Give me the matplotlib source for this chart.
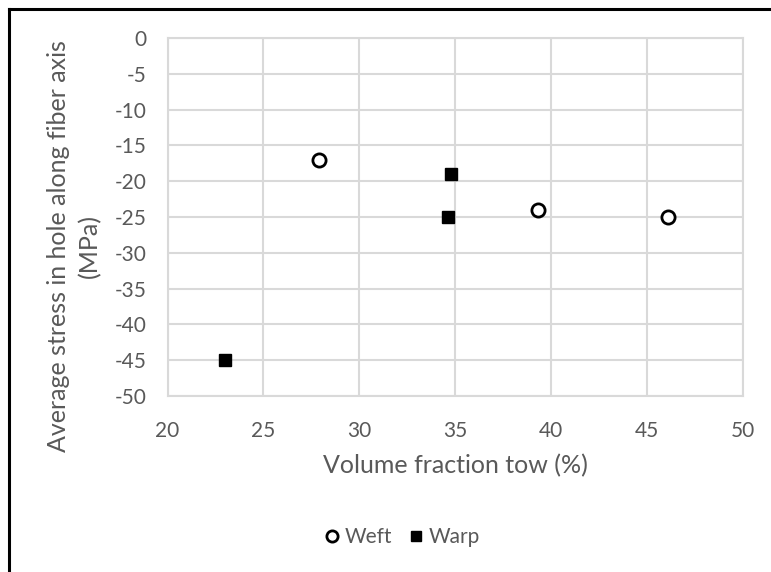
import matplotlib.pyplot as plt
from matplotlib.lines import Line2D

# data
weft_x = [27.9, 39.3, 46.1]
weft_y = [-17, -24, -25]
warp_x = [23.0, 34.8, 34.6]
warp_y = [-45, -19, -25]

x_ticks = [20, 25, 30, 35, 40, 45, 50]
y_ticks = [0, -5, -10, -15, -20, -25, -30, -35, -40, -45, -50]

plt.rcParams['font.family'] = ['Lato', 'DejaVu Sans']
plt.rcParams['axes.unicode_minus'] = False
grey = '#595959'
gridc = '#d9d9d9'

fig = plt.figure(figsize=(7.71, 5.72), dpi=100)
ax = fig.add_axes([167.5 / 771, 1 - 396 / 572, (743 - 167.5) / 771, (396 - 38) / 572])

ax.plot(weft_x, weft_y, 'o', ms=9.5, mfc='white', mec='black', mew=2, label='Weft', zorder=3)
ax.plot(warp_x, warp_y, 's', ms=9, mfc='black', mec='black', label='Warp', zorder=3)

ax.set_xlim(20, 50)
ax.set_ylim(-50, 0)
ax.set_xticks(x_ticks)
ax.set_yticks(y_ticks)
ax.grid(True, color=gridc, lw=1.5)
ax.set_axisbelow(True)
for s in ax.spines.values():
    s.set_color(gridc)
    s.set_linewidth(1.5)
ax.tick_params(length=0, labelsize=15, labelcolor=grey)
ax.tick_params(axis='x', pad=18)
ax.tick_params(axis='y', pad=15)

ax.set_xlabel('Volume fraction tow (%)', fontsize=18, color=grey)
ax.xaxis.label.set_va('center')
ax.xaxis.set_label_coords(0.5, (396 - 466) / 358)

ax.set_ylabel('Average stress in hole along fiber axis\n(MPa)', fontsize=18,
              color=grey, linespacing=1.4)
ax.yaxis.label.set_va('center')
ax.yaxis.set_label_coords((74 - 167.5) / 575.5, (396 - 246) / 358)

fig.legend(loc='center', bbox_to_anchor=(401 / 771, 1 - 537 / 572), ncol=2,
           frameon=False, fontsize=15, labelcolor=grey, handletextpad=0.1,
           columnspacing=0.65, handlelength=1.0, markerscale=0.85)

# outer frame: left and top only
fig.add_artist(Line2D([9 / 771, 9 / 771], [0, 1 - 9 / 572], color='black', lw=2.2,
                      transform=fig.transFigure))
fig.add_artist(Line2D([9 / 771, 1], [1 - 9 / 572, 1 - 9 / 572], color='black', lw=2.2,
                      transform=fig.transFigure))

fig.savefig('out.png', dpi=100)
